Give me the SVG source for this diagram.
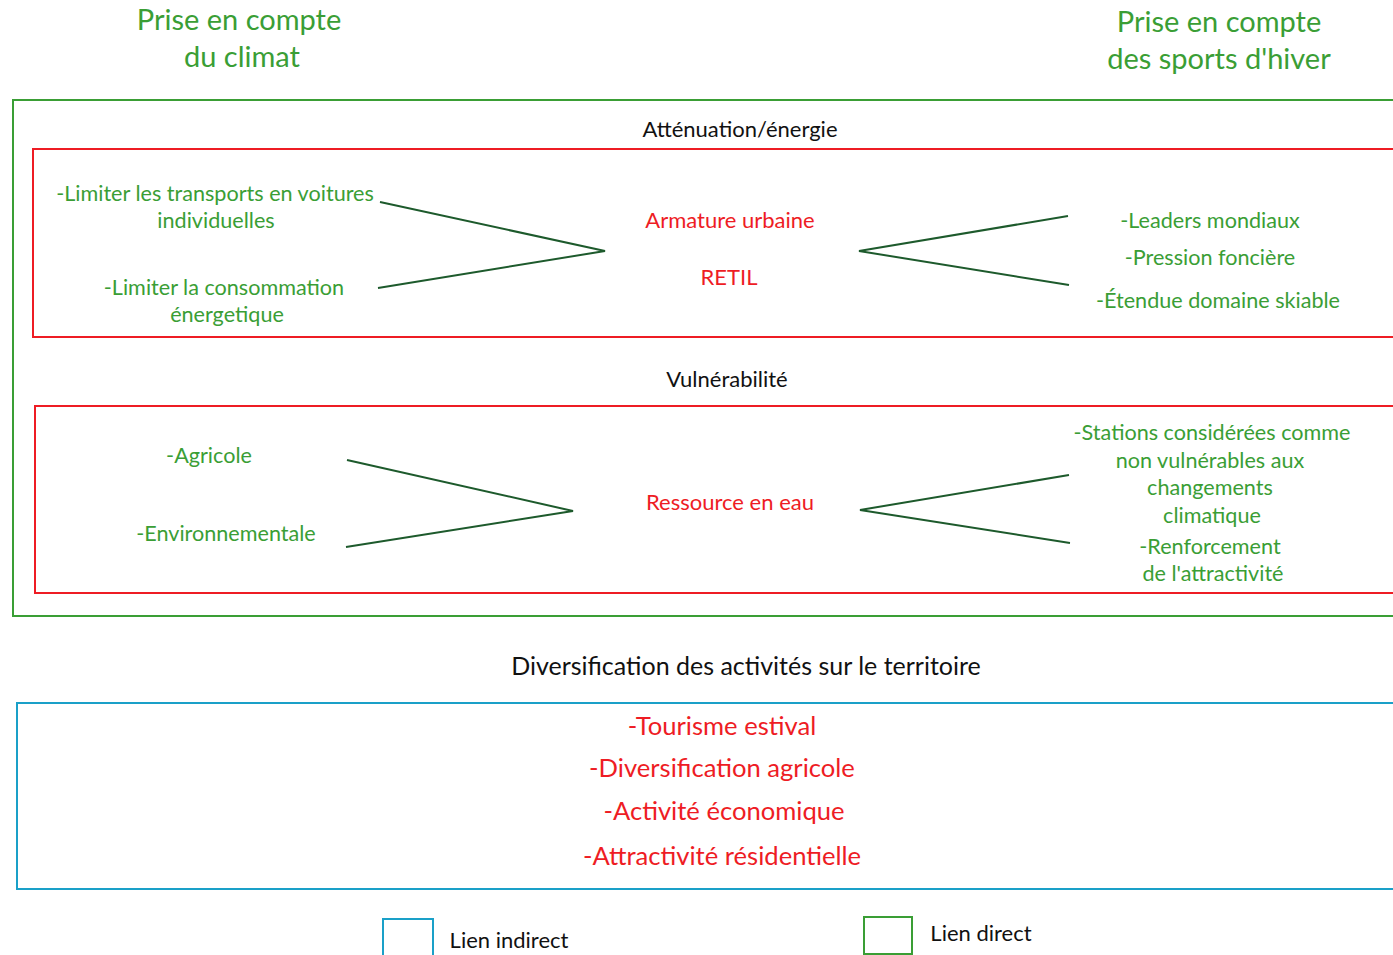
<svg xmlns="http://www.w3.org/2000/svg" width="1393" height="955" viewBox="0 0 1393 955">
<style>
text{font-family:Lato,"Open Sans","Liberation Sans",sans-serif;text-anchor:middle}
.title{fill:#3a9e35;font-size:29px}
.g{fill:#3a9e35;font-size:21.6px}
.r{fill:#ee1c24;font-size:22px}
.r2{fill:#ee1c24;font-size:25.6px}
.k{fill:#111;font-size:22px}
.k2{fill:#111;font-size:25px}
.box{fill:none;stroke-width:2}
.gb{stroke:#3a9e35}
.rb{stroke:#ee1c24}
.bb{stroke:#1aa0c8}
.conn{fill:none;stroke:#1d5a2c;stroke-width:2}
</style>
<g id="title-climat">
<text class="title" x="239" y="30">Prise en compte</text>
<text class="title" x="242" y="67">du climat</text>
</g>
<g id="title-sports">
<text class="title" x="1219" y="32">Prise en compte</text>
<text class="title" x="1219" y="69">des sports d'hiver</text>
</g>
<g id="frame-direct"><rect class="box gb" x="13" y="100" width="1400" height="516"/></g>
<g id="group-attenuation">
<text class="k" x="740" y="137">Atténuation/énergie</text>
<rect class="box rb" x="33" y="149" width="1380" height="188"/>
</g>
<g id="group-vulnerabilite">
<text class="k" x="727" y="387">Vulnérabilité</text>
<rect class="box rb" x="35" y="406" width="1380" height="187"/>
</g>
<g id="n-transports">
<text class="g" x="215" y="201">-Limiter les transports en voitures</text>
<text class="g" x="216" y="228">individuelles</text>
</g>
<g id="n-consommation">
<text class="g" x="224" y="295">-Limiter la consommation</text>
<text class="g" x="227" y="322">énergetique</text>
</g>
<g id="n-armature">
<text class="r" x="730" y="228">Armature urbaine</text>
<text class="r" x="729" y="285">RETIL</text>
</g>
<g id="n-leaders">
<text class="g" x="1210" y="228">-Leaders mondiaux</text>
<text class="g" x="1210" y="265">-Pression foncière</text>
<text class="g" x="1218" y="308">-Étendue domaine skiable</text>
</g>
<g id="n-agricole"><text class="g" x="209" y="463">-Agricole</text></g>
<g id="n-environnementale"><text class="g" x="226" y="541">-Environnementale</text></g>
<g id="n-ressource"><text class="r" x="730" y="510">Ressource en eau</text></g>
<g id="n-stations">
<text class="g" x="1212" y="440">-Stations considérées comme</text>
<text class="g" x="1210" y="468">non vulnérables aux</text>
<text class="g" x="1210" y="495">changements</text>
<text class="g" x="1212" y="523">climatique</text>
<text class="g" x="1210" y="554">-Renforcement</text>
<text class="g" x="1213" y="581">de l'attractivité</text>
</g>
<g id="connectors">
<polyline class="conn" points="380,202 605,251 378,288"/>
<polyline class="conn" points="1068,216 859,251 1069,285"/>
<polyline class="conn" points="347,460 573,511 346,547"/>
<polyline class="conn" points="1069,475 860,510 1070,543"/>
</g>
<g id="group-diversification">
<text class="k2" x="746" y="675">Diversification des activités sur le territoire</text>
<rect class="box bb" x="17" y="703" width="1400" height="186"/>
<text class="r2" x="722" y="735">-Tourisme estival</text>
<text class="r2" x="722" y="777">-Diversification agricole</text>
<text class="r2" x="724" y="820">-Activité économique</text>
<text class="r2" x="722" y="865">-Attractivité résidentielle</text>
</g>
<g id="legend-indirect">
<rect class="box bb" x="383" y="919" width="50" height="60"/>
<text class="k" x="509" y="948">Lien indirect</text>
</g>
<g id="legend-direct">
<rect class="box gb" x="864" y="917" width="48" height="37"/>
<text class="k" x="981" y="941">Lien direct</text>
</g>
</svg>
